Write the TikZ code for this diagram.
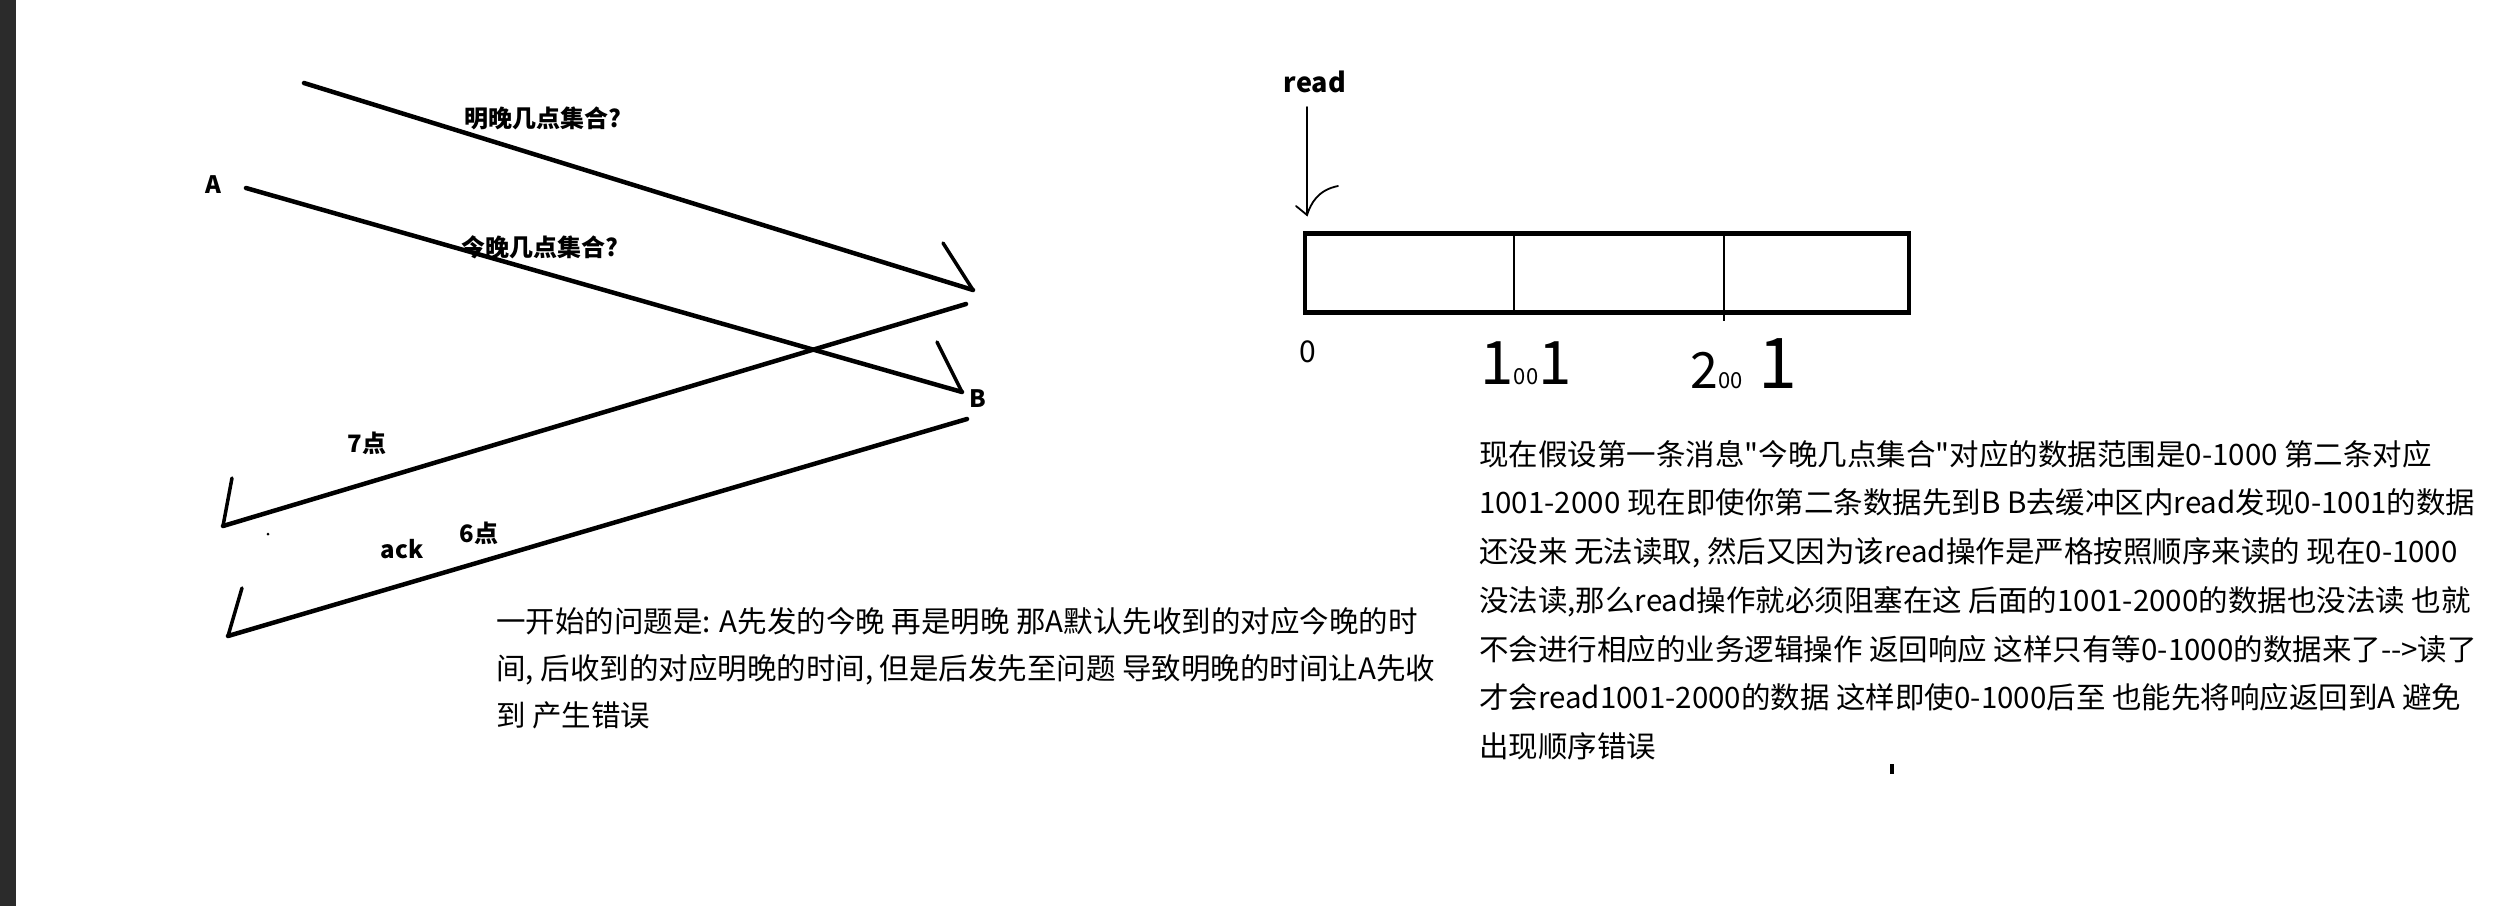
\documentclass[tikz,border=0pt]{standalone}
\usepackage{fontspec}
\newfontfamily\cjk{Noto Sans CJK SC}
\usepackage{tikz}
\definecolor{barcol}{HTML}{2B2B2B}

\begin{document}
\begin{tikzpicture}
 [x=1pt,y=-1pt,
  msg line/.style={line width=4.5pt, line cap=round},
  tick line/.style={line width=3.5pt, line cap=round},
  read line/.style={line width=1.8pt, line cap=round},
  label node/.style={inner sep=0pt, font=\cjk\bfseries\fontsize{24}{24}\selectfont},
  body node/.style={inner sep=0pt, anchor=north west, align=left, font=\cjk\fontsize{29.5}{48}\selectfont},
  hand node/.style={inner sep=0pt, anchor=base, font=\cjk}]

\useasboundingbox (0,0) rectangle (2520,906);
\fill[barcol] (0,0) rectangle (16,906);

\node[label node] (A) at (213,185) {A};
   \node[label node] (B) at (978,399) {B};
\node[label node] (ask2) at (543,118) {明晚几点集合?};
 \node[label node] (ask1) at (540,247) {今晚几点集合?};
 \node[label node] (ans7) at (367,443) {7点};
 \node[label node] (ans6) at (479,533) {6点};
  \node[label node] (ack) at (402,549) {ack};

\coordinate (s2) at (304,83);  \coordinate (e2) at (973,290);  \coordinate (t2) at (943,243);
\coordinate (s1) at (246,188); \coordinate (e1) at (962,392);  \coordinate (t1) at (937,342);
\coordinate (s7) at (966,304); \coordinate (e7) at (223,526);  \coordinate (t7) at (232,478);
\coordinate (s6) at (967,419); \coordinate (e6) at (228,636);  \coordinate (t6) at (242,588);

\path
  (s2) edge [msg line] (e2)
  (e2) edge [tick line] (t2)
  (s1) edge [msg line] (e1)
  (e1) edge [tick line] (t1)
  (s7) edge [msg line] (e7)
  (e7) edge [tick line] (t7)
  (s6) edge [msg line] (e6)
  (e6) edge [tick line] (t6);

\fill (268,534) circle (1.5);

\node[body node, font=\cjk\fontsize{29.5}{47}\selectfont] (note1) at (496,607)
  {一开始的问题是: A先发的今晚 再是明晚 那A默认先收到的对应今晚的时\\间, 后收到的对应明晚的时间, 但是后发先至问题 导致明晚的时间让A先收\\到 产生错误};

\node[label node, font=\cjk\bfseries\fontsize{27}{27}\selectfont] (read) at (1315,82) {read};
\coordinate (rs) at (1307,107); \coordinate (rp) at (1307,215);
\draw[read line] (rs) -- (rp);
\draw[read line] (1296,206) -- (rp) .. controls (1311,203) and (1318,190) .. (1338,186);

\node[draw, line width=4.5pt, inner sep=0pt, minimum width=604pt, minimum height=79pt] (buf) at (1607,273) {};
\draw[line width=2pt] ([xshift=211pt]buf.north west) -- ([xshift=211pt]buf.south west);
\draw[line width=2pt] ([xshift=421pt]buf.north west) -- ([xshift=421pt,yshift=-6pt]buf.south west);

\node[hand node, font=\cjk\fontsize{30}{30}\selectfont] (n0) at (1308,362) {0};
\node[hand node] (n1001) at (1526,384) {\fontsize{60}{60}\selectfont 1\fontsize{22}{22}\selectfont 00\fontsize{60}{60}\selectfont 1};
\node[hand node] (n2001) at (1744,388) {\fontsize{50}{50}\selectfont 2\fontsize{22}{22}\selectfont 00\hspace{16pt}\fontsize{70}{70}\selectfont 1};

\node[body node, font=\cjk\fontsize{29.5}{48.7}\selectfont] (note2) at (1479,440)
  {现在假设第一条消息"今晚几点集合"对应的数据范围是0-1000 第二条对应\\1001-2000 现在即使你第二条数据先到B B去缓冲区内read发现0-1001的数据\\还没来 无法读取, 然后又因为该read操作是严格按照顺序来读的 现在0-1000\\没法读,那么read操作就必须阻塞在这 后面的1001-2000的数据也没法读 也就\\不会进行相应的业务逻辑操作 返回响应 这样只有等0-1000的数据来了{-}{-}>读了\\才会read1001-2000的数据 这样即使0-1000后至 也能先将响应返回到A 避免\\出现顺序错误};

\fill (1890,764) rectangle (1894,774);

\end{tikzpicture}
\end{document}
